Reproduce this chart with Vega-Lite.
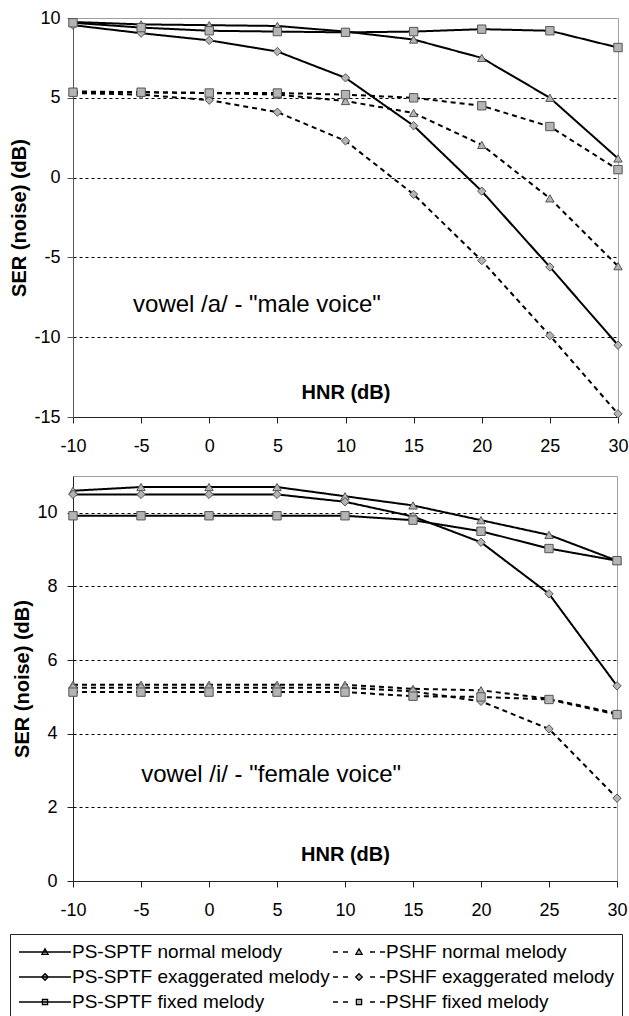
{
  "$schema": "https://vega.github.io/schema/vega-lite/v6.json",
  "background": "white",
  "padding": {"left": 9, "top": 8, "right": 0, "bottom": 0},
  "columns": 1,
  "spacing": 11,
  "config": {
    "font": "Liberation Sans",
    "axis": {"labelFont": "Liberation Sans", "titleFont": "Liberation Sans", "labelColor": "black", "titleColor": "black", "labelFontSize": 18, "titleFontSize": 20, "titleFontWeight": "bold", "labelFlush": false, "labelOverlap": false, "labelBound": false}
  },
  "datasets": {
    "male": [
      {"method": "PS-SPTF", "melody": "normal", "hnr": -10, "ser": 9.75},
      {"method": "PS-SPTF", "melody": "normal", "hnr": -5, "ser": 9.6},
      {"method": "PS-SPTF", "melody": "normal", "hnr": 0, "ser": 9.55},
      {"method": "PS-SPTF", "melody": "normal", "hnr": 5, "ser": 9.5},
      {"method": "PS-SPTF", "melody": "normal", "hnr": 10, "ser": 9.15},
      {"method": "PS-SPTF", "melody": "normal", "hnr": 15, "ser": 8.65},
      {"method": "PS-SPTF", "melody": "normal", "hnr": 20, "ser": 7.5},
      {"method": "PS-SPTF", "melody": "normal", "hnr": 25, "ser": 5.0},
      {"method": "PS-SPTF", "melody": "normal", "hnr": 30, "ser": 1.2},
      {"method": "PS-SPTF", "melody": "exaggerated", "hnr": -10, "ser": 9.55},
      {"method": "PS-SPTF", "melody": "exaggerated", "hnr": -5, "ser": 9.05},
      {"method": "PS-SPTF", "melody": "exaggerated", "hnr": 0, "ser": 8.6},
      {"method": "PS-SPTF", "melody": "exaggerated", "hnr": 5, "ser": 7.9},
      {"method": "PS-SPTF", "melody": "exaggerated", "hnr": 10, "ser": 6.25},
      {"method": "PS-SPTF", "melody": "exaggerated", "hnr": 15, "ser": 3.25},
      {"method": "PS-SPTF", "melody": "exaggerated", "hnr": 20, "ser": -0.85},
      {"method": "PS-SPTF", "melody": "exaggerated", "hnr": 25, "ser": -5.6},
      {"method": "PS-SPTF", "melody": "exaggerated", "hnr": 30, "ser": -10.5},
      {"method": "PS-SPTF", "melody": "fixed", "hnr": -10, "ser": 9.7},
      {"method": "PS-SPTF", "melody": "fixed", "hnr": -5, "ser": 9.4},
      {"method": "PS-SPTF", "melody": "fixed", "hnr": 0, "ser": 9.2},
      {"method": "PS-SPTF", "melody": "fixed", "hnr": 5, "ser": 9.15},
      {"method": "PS-SPTF", "melody": "fixed", "hnr": 10, "ser": 9.1},
      {"method": "PS-SPTF", "melody": "fixed", "hnr": 15, "ser": 9.15},
      {"method": "PS-SPTF", "melody": "fixed", "hnr": 20, "ser": 9.3},
      {"method": "PS-SPTF", "melody": "fixed", "hnr": 25, "ser": 9.2},
      {"method": "PS-SPTF", "melody": "fixed", "hnr": 30, "ser": 8.15},
      {"method": "PSHF", "melody": "normal", "hnr": -10, "ser": 5.4},
      {"method": "PSHF", "melody": "normal", "hnr": -5, "ser": 5.35},
      {"method": "PSHF", "melody": "normal", "hnr": 0, "ser": 5.3},
      {"method": "PSHF", "melody": "normal", "hnr": 5, "ser": 5.2},
      {"method": "PSHF", "melody": "normal", "hnr": 10, "ser": 4.8},
      {"method": "PSHF", "melody": "normal", "hnr": 15, "ser": 4.05},
      {"method": "PSHF", "melody": "normal", "hnr": 20, "ser": 2.05},
      {"method": "PSHF", "melody": "normal", "hnr": 25, "ser": -1.3},
      {"method": "PSHF", "melody": "normal", "hnr": 30, "ser": -5.55},
      {"method": "PSHF", "melody": "exaggerated", "hnr": -10, "ser": 5.3},
      {"method": "PSHF", "melody": "exaggerated", "hnr": -5, "ser": 5.2},
      {"method": "PSHF", "melody": "exaggerated", "hnr": 0, "ser": 4.85},
      {"method": "PSHF", "melody": "exaggerated", "hnr": 5, "ser": 4.1},
      {"method": "PSHF", "melody": "exaggerated", "hnr": 10, "ser": 2.3},
      {"method": "PSHF", "melody": "exaggerated", "hnr": 15, "ser": -1.05},
      {"method": "PSHF", "melody": "exaggerated", "hnr": 20, "ser": -5.2},
      {"method": "PSHF", "melody": "exaggerated", "hnr": 25, "ser": -9.9},
      {"method": "PSHF", "melody": "exaggerated", "hnr": 30, "ser": -14.8},
      {"method": "PSHF", "melody": "fixed", "hnr": -10, "ser": 5.35},
      {"method": "PSHF", "melody": "fixed", "hnr": -5, "ser": 5.35},
      {"method": "PSHF", "melody": "fixed", "hnr": 0, "ser": 5.3},
      {"method": "PSHF", "melody": "fixed", "hnr": 5, "ser": 5.3},
      {"method": "PSHF", "melody": "fixed", "hnr": 10, "ser": 5.2},
      {"method": "PSHF", "melody": "fixed", "hnr": 15, "ser": 5.0},
      {"method": "PSHF", "melody": "fixed", "hnr": 20, "ser": 4.5},
      {"method": "PSHF", "melody": "fixed", "hnr": 25, "ser": 3.2},
      {"method": "PSHF", "melody": "fixed", "hnr": 30, "ser": 0.5}
    ],
    "female": [
      {"method": "PS-SPTF", "melody": "normal", "hnr": -10, "ser": 10.6},
      {"method": "PS-SPTF", "melody": "normal", "hnr": -5, "ser": 10.7},
      {"method": "PS-SPTF", "melody": "normal", "hnr": 0, "ser": 10.7},
      {"method": "PS-SPTF", "melody": "normal", "hnr": 5, "ser": 10.7},
      {"method": "PS-SPTF", "melody": "normal", "hnr": 10, "ser": 10.45},
      {"method": "PS-SPTF", "melody": "normal", "hnr": 15, "ser": 10.2},
      {"method": "PS-SPTF", "melody": "normal", "hnr": 20, "ser": 9.8},
      {"method": "PS-SPTF", "melody": "normal", "hnr": 25, "ser": 9.4},
      {"method": "PS-SPTF", "melody": "normal", "hnr": 30, "ser": 8.7},
      {"method": "PS-SPTF", "melody": "exaggerated", "hnr": -10, "ser": 10.5},
      {"method": "PS-SPTF", "melody": "exaggerated", "hnr": -5, "ser": 10.5},
      {"method": "PS-SPTF", "melody": "exaggerated", "hnr": 0, "ser": 10.5},
      {"method": "PS-SPTF", "melody": "exaggerated", "hnr": 5, "ser": 10.5},
      {"method": "PS-SPTF", "melody": "exaggerated", "hnr": 10, "ser": 10.3},
      {"method": "PS-SPTF", "melody": "exaggerated", "hnr": 15, "ser": 9.9},
      {"method": "PS-SPTF", "melody": "exaggerated", "hnr": 20, "ser": 9.2},
      {"method": "PS-SPTF", "melody": "exaggerated", "hnr": 25, "ser": 7.8},
      {"method": "PS-SPTF", "melody": "exaggerated", "hnr": 30, "ser": 5.3},
      {"method": "PS-SPTF", "melody": "fixed", "hnr": -10, "ser": 9.92},
      {"method": "PS-SPTF", "melody": "fixed", "hnr": -5, "ser": 9.92},
      {"method": "PS-SPTF", "melody": "fixed", "hnr": 0, "ser": 9.92},
      {"method": "PS-SPTF", "melody": "fixed", "hnr": 5, "ser": 9.92},
      {"method": "PS-SPTF", "melody": "fixed", "hnr": 10, "ser": 9.92},
      {"method": "PS-SPTF", "melody": "fixed", "hnr": 15, "ser": 9.8},
      {"method": "PS-SPTF", "melody": "fixed", "hnr": 20, "ser": 9.5},
      {"method": "PS-SPTF", "melody": "fixed", "hnr": 25, "ser": 9.03},
      {"method": "PS-SPTF", "melody": "fixed", "hnr": 30, "ser": 8.7},
      {"method": "PSHF", "melody": "normal", "hnr": -10, "ser": 5.33},
      {"method": "PSHF", "melody": "normal", "hnr": -5, "ser": 5.33},
      {"method": "PSHF", "melody": "normal", "hnr": 0, "ser": 5.33},
      {"method": "PSHF", "melody": "normal", "hnr": 5, "ser": 5.33},
      {"method": "PSHF", "melody": "normal", "hnr": 10, "ser": 5.33},
      {"method": "PSHF", "melody": "normal", "hnr": 15, "ser": 5.22},
      {"method": "PSHF", "melody": "normal", "hnr": 20, "ser": 5.18},
      {"method": "PSHF", "melody": "normal", "hnr": 25, "ser": 4.95},
      {"method": "PSHF", "melody": "normal", "hnr": 30, "ser": 4.55},
      {"method": "PSHF", "melody": "exaggerated", "hnr": -10, "ser": 5.25},
      {"method": "PSHF", "melody": "exaggerated", "hnr": -5, "ser": 5.25},
      {"method": "PSHF", "melody": "exaggerated", "hnr": 0, "ser": 5.25},
      {"method": "PSHF", "melody": "exaggerated", "hnr": 5, "ser": 5.25},
      {"method": "PSHF", "melody": "exaggerated", "hnr": 10, "ser": 5.25},
      {"method": "PSHF", "melody": "exaggerated", "hnr": 15, "ser": 5.15},
      {"method": "PSHF", "melody": "exaggerated", "hnr": 20, "ser": 4.88},
      {"method": "PSHF", "melody": "exaggerated", "hnr": 25, "ser": 4.13},
      {"method": "PSHF", "melody": "exaggerated", "hnr": 30, "ser": 2.25},
      {"method": "PSHF", "melody": "fixed", "hnr": -10, "ser": 5.13},
      {"method": "PSHF", "melody": "fixed", "hnr": -5, "ser": 5.13},
      {"method": "PSHF", "melody": "fixed", "hnr": 0, "ser": 5.13},
      {"method": "PSHF", "melody": "fixed", "hnr": 5, "ser": 5.13},
      {"method": "PSHF", "melody": "fixed", "hnr": 10, "ser": 5.13},
      {"method": "PSHF", "melody": "fixed", "hnr": 15, "ser": 5.02},
      {"method": "PSHF", "melody": "fixed", "hnr": 20, "ser": 5.0},
      {"method": "PSHF", "melody": "fixed", "hnr": 25, "ser": 4.93},
      {"method": "PSHF", "melody": "fixed", "hnr": 30, "ser": 4.52}
    ],
    "legendItems": [
      {"label": "PS-SPTF normal melody"},
      {"label": "PS-SPTF exaggerated melody"},
      {"label": "PS-SPTF fixed melody"},
      {"label": "PSHF normal melody"},
      {"label": "PSHF exaggerated melody"},
      {"label": "PSHF fixed melody"}
    ]
  },
  "concat": [
    {
      "width": 545,
      "height": 399,
      "view": {"stroke": "#a0a0a0", "strokeWidth": 1},
      "data": {"name": "male"},
      "layer": [
        {
          "mark": {"type": "line", "color": "black", "strokeWidth": 2},
          "encoding": {
            "x": {"field": "hnr", "type": "quantitative",
              "scale": {"domain": [-10, 30], "nice": false, "zero": false},
              "axis": {"values": [-10, -5, 0, 5, 10, 15, 20, 25, 30], "labelExpr": "'' + datum.value", "grid": false,
                "tickSize": 6, "tickColor": "#222", "domainColor": "#222", "labelPadding": 14,
                "title": "HNR (dB)", "titleY": -25, "titleBaseline": "middle", "minExtent": 46}},
            "y": {"field": "ser", "type": "quantitative",
              "scale": {"domain": [-15, 10], "nice": false, "zero": false},
              "axis": {"values": [-15, -10, -5, 0, 5, 10], "labelExpr": "'' + datum.value", "grid": true,
                "gridDash": [3, 3], "gridColor": "#000", "gridWidth": 1,
                "gridOpacity": {"condition": {"test": "datum.value >= 10", "value": 0}, "value": 1},
                "tickSize": 6, "tickColor": "#555", "domainColor": "#555", "labelPadding": 7,
                "title": "SER (noise) (dB)", "titlePadding": 4}},
            "detail": {"field": "melody"},
            "strokeDash": {"field": "method", "type": "nominal",
              "scale": {"domain": ["PS-SPTF", "PSHF"], "range": [[1, 0], [5, 4]]}, "legend": null}
          }
        },
        {
          "mark": {"type": "point", "filled": true, "fill": "#b4b4b4", "stroke": "#555", "strokeWidth": 1, "size": 70, "opacity": 1},
          "encoding": {
            "x": {"field": "hnr", "type": "quantitative"},
            "y": {"field": "ser", "type": "quantitative"},
            "shape": {"field": "melody", "type": "nominal",
              "scale": {"domain": ["normal", "exaggerated", "fixed"], "range": ["triangle-up", "diamond", "square"]}, "legend": null}
          }
        },
        {
          "data": {"values": [{"note": "vowel /a/ - \"male voice\""}]},
          "mark": {"type": "text", "font": "Liberation Sans", "fontSize": 24, "color": "black", "baseline": "middle", "align": "center"},
          "encoding": {
            "x": {"datum": 3.5, "type": "quantitative"},
            "y": {"datum": -8, "type": "quantitative"},
            "text": {"field": "note"}
          }
        }
      ]
    },
    {
      "width": 544,
      "height": 405,
      "view": {"stroke": "#a0a0a0", "strokeWidth": 1},
      "data": {"name": "female"},
      "resolve": {"scale": {"shape": "independent"}, "legend": {"shape": "independent"}},
      "layer": [
        {
          "mark": {"type": "line", "color": "black", "strokeWidth": 2},
          "encoding": {
            "x": {"field": "hnr", "type": "quantitative",
              "scale": {"domain": [-10, 30], "nice": false, "zero": false},
              "axis": {"values": [-10, -5, 0, 5, 10, 15, 20, 25, 30], "labelExpr": "'' + datum.value", "grid": false,
                "tickSize": 6, "tickColor": "#222", "domainColor": "#222", "labelPadding": 14,
                "title": "HNR (dB)", "titleY": -27, "titleBaseline": "middle"}},
            "y": {"field": "ser", "type": "quantitative",
              "scale": {"domain": [0, 11], "nice": false, "zero": false},
              "axis": {"values": [0, 2, 4, 6, 8, 10], "labelExpr": "'' + datum.value", "grid": true,
                "gridDash": [3, 3], "gridColor": "#000", "gridWidth": 1,
                "tickSize": 6, "tickColor": "#222", "domainColor": "#222", "labelPadding": 10,
                "title": "SER (noise) (dB)", "titlePadding": 4}},
            "detail": {"field": "melody"},
            "strokeDash": {"field": "method", "type": "nominal",
              "scale": {"domain": ["PS-SPTF", "PSHF"], "range": [[1, 0], [5, 4]]}, "legend": null}
          }
        },
        {
          "mark": {"type": "point", "filled": true, "fill": "#b4b4b4", "stroke": "#555", "strokeWidth": 1, "size": 70, "opacity": 1},
          "encoding": {
            "x": {"field": "hnr", "type": "quantitative"},
            "y": {"field": "ser", "type": "quantitative"},
            "shape": {"field": "melody", "type": "nominal",
              "scale": {"domain": ["normal", "exaggerated", "fixed"], "range": ["triangle-up", "diamond", "square"]}, "legend": null}
          }
        },
        {
          "data": {"values": [{"note": "vowel /i/ - \"female voice\""}]},
          "mark": {"type": "text", "font": "Liberation Sans", "fontSize": 24, "color": "black", "baseline": "middle", "align": "center"},
          "encoding": {
            "x": {"datum": 4.57, "type": "quantitative"},
            "y": {"datum": 2.87, "type": "quantitative"},
            "text": {"field": "note"}
          }
        },
        {
          "data": {"name": "legendItems"},
          "mark": {"type": "point", "filled": true, "fill": "#b4b4b4", "stroke": "black", "strokeWidth": 1.3, "opacity": 0},
          "encoding": {
            "shape": {"field": "label", "type": "nominal",
              "scale": {
                "domain": ["PS-SPTF normal melody", "PS-SPTF exaggerated melody", "PS-SPTF fixed melody", "PSHF normal melody", "PSHF exaggerated melody", "PSHF fixed melody"],
                "range": [
                  "M-2.6,0L2.6,0M0,-0.32L0.31,0.23L-0.31,0.23Z",
                  "M-2.6,0L2.6,0M0,-0.33L0.33,0L0,0.33L-0.33,0Z",
                  "M-2.6,0L2.6,0M-0.26,-0.26L0.26,-0.26L0.26,0.26L-0.26,0.26Z",
                  "M-2.6,0L-2.1,0M-1.6,0L-1.1,0M1.1,0L1.6,0M2.1,0L2.6,0M0,-0.32L0.31,0.23L-0.31,0.23Z",
                  "M-2.6,0L-2.1,0M-1.6,0L-1.1,0M1.1,0L1.6,0M2.1,0L2.6,0M0,-0.33L0.33,0L0,0.33L-0.33,0Z",
                  "M-2.6,0L-2.1,0M-1.6,0L-1.1,0M1.1,0L1.6,0M2.1,0L2.6,0M-0.26,-0.26L0.26,-0.26L0.26,0.26L-0.26,0.26Z"
                ]
              },
              "legend": {
                "title": null, "orient": "none", "legendX": -63, "legendY": 458,
                "columns": 2, "columnPadding": 0, "rowPadding": 4, "padding": 7,
                "strokeColor": "#222",
                "symbolSize": 400, "symbolOffset": 17, "labelOffset": 16,
                "symbolOpacity": 1, "symbolStrokeWidth": 1.3,
                "labelFont": "Liberation Sans", "labelFontSize": 19, "labelColor": "black", "labelLimit": 400,
                "encode": {"symbols": {
                  "fill": {"value": "#b4b4b4"},
                  "stroke": {"value": "black"},
                  "strokeWidth": {"value": 1.3},
                  "opacity": {"value": 1},
                  "strokeOpacity": {"value": 1}
                }}
              }
            }
          }
        }
      ]
    }
  ]
}
